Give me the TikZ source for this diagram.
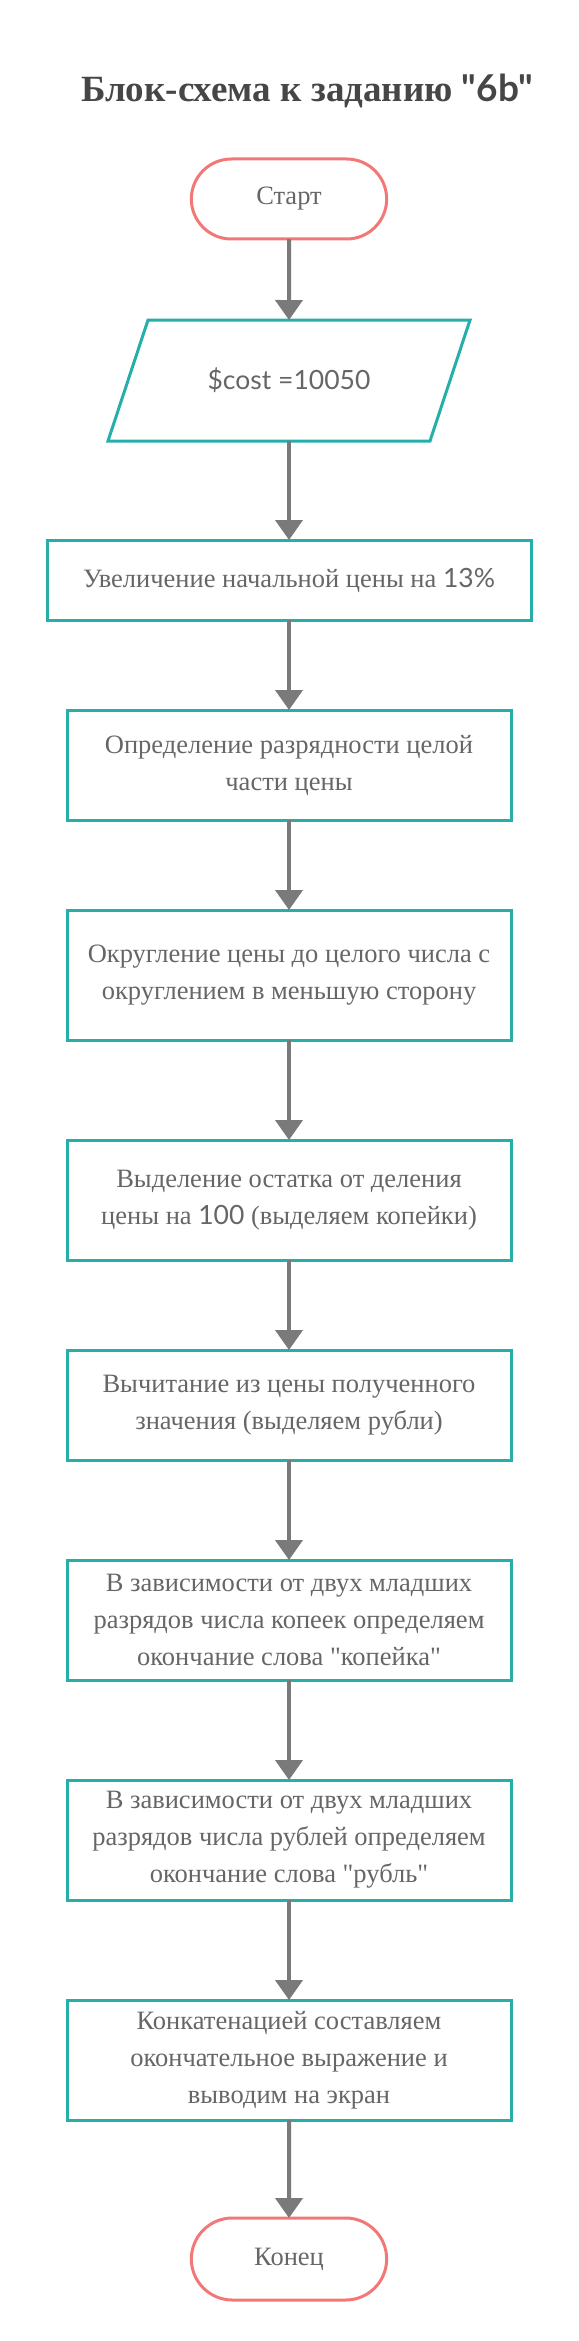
\documentclass[tikz,border=0pt]{standalone}
\usepackage{fontspec}
\setmainfont{Liberation Serif}[Ligatures=TeXOff]
\newfontfamily\latofont{Lato}
\usetikzlibrary{positioning,shapes.misc,arrows.meta}

\definecolor{boxteal}{RGB}{38,174,171}
\definecolor{termred}{RGB}{242,120,120}
\definecolor{linegray}{RGB}{122,122,122}
\definecolor{textgray}{RGB}{102,102,102}
\definecolor{titlegray}{RGB}{70,70,70}
\newcommand{\latn}[1]{{\latofont #1}}

\begin{document}
\begin{tikzpicture}[x=1pt, y=-1pt, outer sep=0pt,
                    main node/.style={rectangle,draw=boxteal,line width=3pt,minimum width=444pt,
                                      align=center,text=textgray,font=\fontsize{26.5}{37}\selectfont},
                    end node/.style={rounded rectangle,draw=termred,line width=3pt,minimum width=202pt,
                                     minimum height=80pt,text=textgray,font=\fontsize{26.5}{37}\selectfont},
                    data node/.style={rectangle,minimum width=322pt,minimum height=121pt,
                                      text=textgray,font=\fontsize{26.5}{37}\selectfont},
                    title node/.style={anchor=base,text=titlegray,font=\fontsize{37}{44}\selectfont\bfseries}]

  \useasboundingbox (0,0) rectangle (578,2341);

  \node[title node] (0) at (307,102) {Блок-схема к заданию {\latofont\bfseries "6b"}};

  \node[end node] (1) at (289,199) {Старт};
  \node[data node] (2) [below=81pt of 1] {\latn{\$cost =10050}};
  \draw[boxteal,line width=3pt] ([xshift=-20pt]2.south west) -- ([xshift=-20pt]2.south east)
       -- ([xshift=20pt]2.north east) -- ([xshift=20pt]2.north west) -- cycle;
  \node[main node, minimum width=484pt, minimum height=80pt] (3) [below=99pt of 2]
       {Увеличение начальной цены на \latn{13\%}};
  \node[main node, minimum height=110pt] (4) [below=90pt of 3]
       {Определение разрядности целой\\части цены};
  \node[main node, minimum height=130pt] (5) [below=90pt of 4]
       {Округление цены до целого числа с\\округлением в меньшую сторону};
  \node[main node, minimum height=120pt] (6) [below=100pt of 5]
       {Выделение остатка от деления\\цены на \latn{100} (выделяем копейки)};
  \node[main node, minimum height=110pt] (7) [below=90pt of 6]
       {Вычитание из цены полученного\\значения (выделяем рубли)};
  \node[main node, minimum height=120pt] (8) [below=100pt of 7]
       {В зависимости от двух младших\\разрядов числа копеек определяем\\окончание слова "копейка"};
  \node[main node, minimum height=120pt] (9) [below=100pt of 8]
       {В зависимости от двух младших\\разрядов числа рублей определяем\\окончание слова "рубль"};
  \node[main node, minimum height=120pt] (10) [below=100pt of 9]
       {Конкатенацией составляем\\окончательное выражение и\\выводим на экран};
  \node[end node, minimum height=82pt] (11) [below=98pt of 10] {Конец};

  \path[every edge/.style={draw=linegray,line width=4pt,-{Triangle[width=27pt,length=20pt]}}]
    (1) edge (2)
    (2) edge (3)
    (3) edge (4)
    (4) edge (5)
    (5) edge (6)
    (6) edge (7)
    (7) edge (8)
    (8) edge (9)
    (9) edge (10)
    (10) edge (11);

\end{tikzpicture}
\end{document}
